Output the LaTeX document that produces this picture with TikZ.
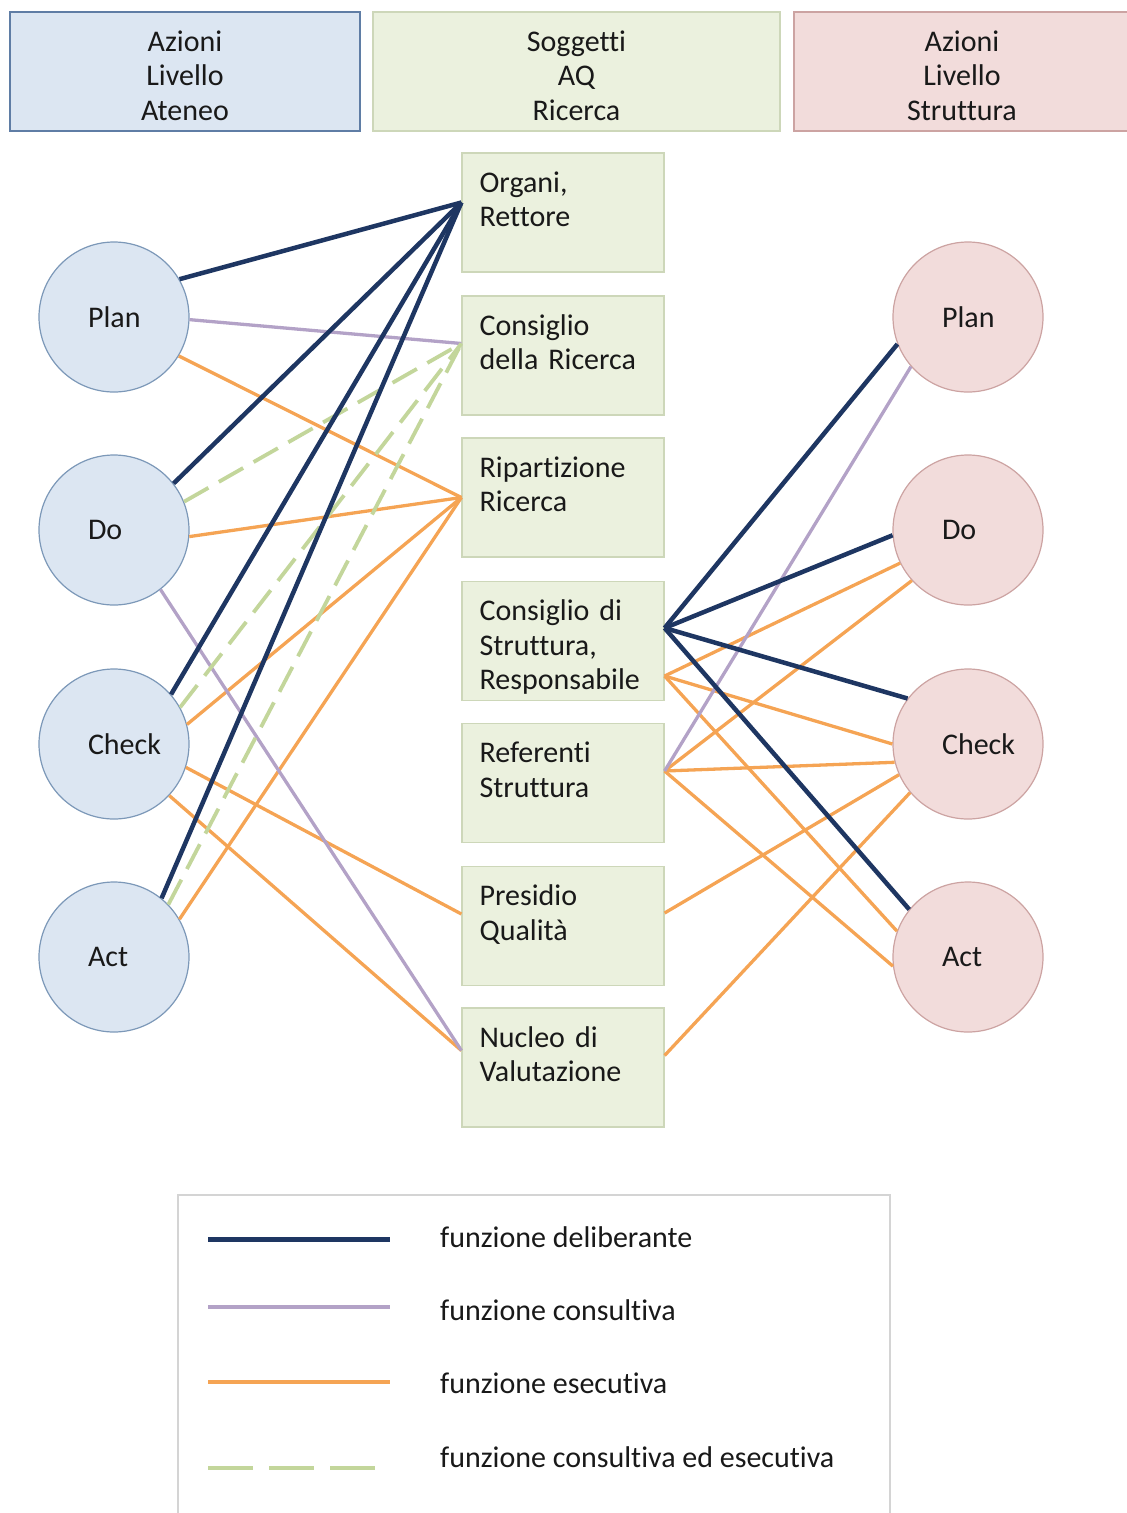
\documentclass[tikz,border=0pt]{standalone}
\usepackage{fontspec}
\setmainfont{Carlito}[Ligatures=CommonOff]

\definecolor{delib}{RGB}{30,54,98}
\definecolor{consul}{RGB}{179,162,199}
\definecolor{esec}{RGB}{245,164,84}
\definecolor{conses}{RGB}{195,214,155}
\definecolor{ateneofill}{RGB}{220,230,242}
\definecolor{ateneoline}{RGB}{124,152,184}
\definecolor{headblue}{RGB}{95,125,165}
\definecolor{strutfill}{RGB}{242,220,219}
\definecolor{strutline}{RGB}{204,163,162}
\definecolor{sogfill}{RGB}{235,241,222}
\definecolor{sogline}{RGB}{205,215,185}
\definecolor{legline}{RGB}{212,212,212}
\definecolor{testo}{RGB}{25,25,25}

\begin{document}
\begin{tikzpicture}[x=1pt,y=-1pt,
  every node/.style={font=\fontsize{30}{34.5}\selectfont,text=testo},
  ateneo/.style={circle,draw=ateneoline,fill=ateneofill,line width=1.2pt,minimum size=150pt,inner sep=0pt,text width=52pt,align=left},
  struttura/.style={circle,draw=strutline,fill=strutfill,line width=1.2pt,minimum size=150pt,inner sep=0pt,text width=52pt,align=left},
  soggetto/.style={rectangle,draw=sogline,fill=sogfill,line width=1.2pt,minimum width=202pt,minimum height=119pt,inner sep=0pt},
  boxtxt/.style={anchor=base west,text width=180pt,align=left,inner sep=0pt,xshift=18pt,yshift=-40pt},
  head/.style={rectangle,line width=1.2pt,minimum height=119pt,inner sep=0pt},
  headtxt/.style={anchor=center,align=center,inner sep=0pt,yshift=-4pt},
  delibline/.style={draw=delib,line width=4.5pt},
  consline/.style={draw=consul,line width=3.3pt},
  eseline/.style={draw=esec,line width=3.3pt},
  cesline/.style={draw=conses,line width=3.8pt,dash pattern=on 28pt off 12pt}]
\useasboundingbox (0,0) rectangle (1127,1513);
\clip (0,0) rectangle (1127,1513);

% intestazioni
\node[head,draw=headblue,fill=ateneofill,minimum width=350pt,label={[headtxt]center:{Azioni\\Livello\\Ateneo}}] (hate) at (185,71.5) {};
\node[head,draw=sogline,fill=sogfill,minimum width=407pt,label={[headtxt]center:{Soggetti\\AQ\\Ricerca}}] (hsog) at (576.5,71.5) {};
\node[head,draw=strutline,fill=strutfill,minimum width=336pt,label={[headtxt]center:{Azioni\\Livello\\Struttura}}] (hstr) at (962,71.5) {};

% PDCA ateneo
\node[ateneo] (lplan) at (114,317) {Plan};
\node[ateneo] (ldo) at (114,530) {Do};
\node[ateneo] (lcheck) at (114,744) {Check};
\node[ateneo] (lact) at (114,957) {Act};

% PDCA struttura
\node[struttura] (rplan) at (968,317) {Plan};
\node[struttura] (rdo) at (968,530) {Do};
\node[struttura] (rcheck) at (968,744) {Check};
\node[struttura] (ract) at (968,957) {Act};

% soggetti
\node[soggetto,label={[boxtxt]north west:{Organi,\\Rettore}}] (org) at (563,212.5) {};
\node[soggetto,label={[boxtxt]north west:{Consiglio\\della Ricerca}}] (cdr) at (563,355.5) {};
\node[soggetto,label={[boxtxt]north west:{Ripartizione\\Ricerca}}] (rip) at (563,497.5) {};
\node[soggetto,label={[boxtxt]north west:{Consiglio di\\Struttura,\\Responsabile}}] (cds) at (563,641) {};
\node[soggetto,label={[boxtxt]north west:{Referenti\\Struttura}}] (ref) at (563,783) {};
\node[soggetto,label={[boxtxt]north west:{Presidio\\Qualità}}] (pq) at (563,926) {};
\node[soggetto,label={[boxtxt]north west:{Nucleo di\\Valutazione}}] (nv) at (563,1067.5) {};

\coordinate (org-l) at ([yshift=10pt]org.west);
\coordinate (cdr-l) at ([yshift=12pt]cdr.west);
\coordinate (rip-l) at (rip.west);
\coordinate (pq-l) at ([yshift=12pt]pq.west);
\coordinate (nv-l) at ([yshift=17pt]nv.west);
\coordinate (cds-r) at ([yshift=13pt]cds.east);
\coordinate (cds-r2) at ([yshift=-35pt]cds.east);
\coordinate (ref-r) at ([yshift=12pt]ref.east);
\coordinate (pq-r) at ([yshift=13pt]pq.east);
\coordinate (nv-r) at ([yshift=12pt]nv.east);

% lato ateneo
\draw[eseline] (lplan.-31) -- (rip-l);
\draw[eseline] (ldo.-5) -- (rip-l);
\draw[eseline] (lcheck.15) -- (rip-l);
\draw[eseline] (lact.30) -- (rip-l);
\draw[eseline] (lcheck.-18) -- (pq-l);
\draw[eseline] (lcheck.-43) -- (nv-l);
\draw[consline] (lplan.-2) -- (cdr-l);
\draw[consline] (ldo.-52) -- (nv-l);
\draw[cesline] (ldo.22) -- (cdr-l);
\draw[cesline] (lcheck.29) -- (cdr-l);
\draw[cesline] (lact.44) -- (cdr-l);
\draw[delibline] (lplan.30) -- (org-l);
\draw[delibline] (ldo.38) -- (org-l);
\draw[delibline] (lcheck.41) -- (org-l);
\draw[delibline] (lact.51) -- (org-l);

% lato struttura
\draw[eseline] (cds-r2) -- (rdo.206);
\draw[eseline] (cds-r2) -- (rcheck.180);
\draw[eseline] (cds-r2) -- (ract.160);
\draw[eseline] (ref-r) -- (rdo.222);
\draw[eseline] (ref-r) -- (rcheck.194);
\draw[eseline] (ref-r) -- (ract.187);
\draw[eseline] (pq-r) -- (rcheck.204);
\draw[eseline] (nv-r) -- (rcheck.220);
\draw[consline] (ref-r) -- (rplan.221);
\draw[delibline] (cds-r) -- (rplan.201);
\draw[delibline] (cds-r) -- (rdo.184);
\draw[delibline] (cds-r) -- (rcheck.143);
\draw[delibline] (cds-r) -- (ract.141);

% legenda
\node[draw=legline,fill=white,line width=1.2pt,minimum width=712pt,minimum height=330pt,inner sep=0pt] (legend) at (534,1360) {};
\coordinate (del-a) at (208,1239);
\coordinate (del-b) at (390,1239);
\coordinate (con-a) at (208,1307);
\coordinate (con-b) at (390,1307);
\coordinate (ese-a) at (208,1382);
\coordinate (ese-b) at (390,1382);
\coordinate (ces-a) at (208,1468);
\coordinate (ces-b) at (375,1468);
\draw[delibline,line width=5pt] (del-a) -- (del-b);
\draw[consline,line width=4.5pt] (con-a) -- (con-b);
\draw[eseline,line width=4.5pt] (ese-a) -- (ese-b);
\draw[cesline,line width=4.5pt,dash pattern=on 45pt off 16pt] (ces-a) -- (ces-b);
\node[anchor=base west,inner sep=0pt] (tdel) at (440,1247) {funzione deliberante};
\node[anchor=base west,inner sep=0pt] (tcon) at (440,1320) {funzione consultiva};
\node[anchor=base west,inner sep=0pt] (tese) at (440,1393) {funzione esecutiva};
\node[anchor=base west,inner sep=0pt] (tces) at (440,1467) {funzione consultiva ed esecutiva};
\end{tikzpicture}
\end{document}
